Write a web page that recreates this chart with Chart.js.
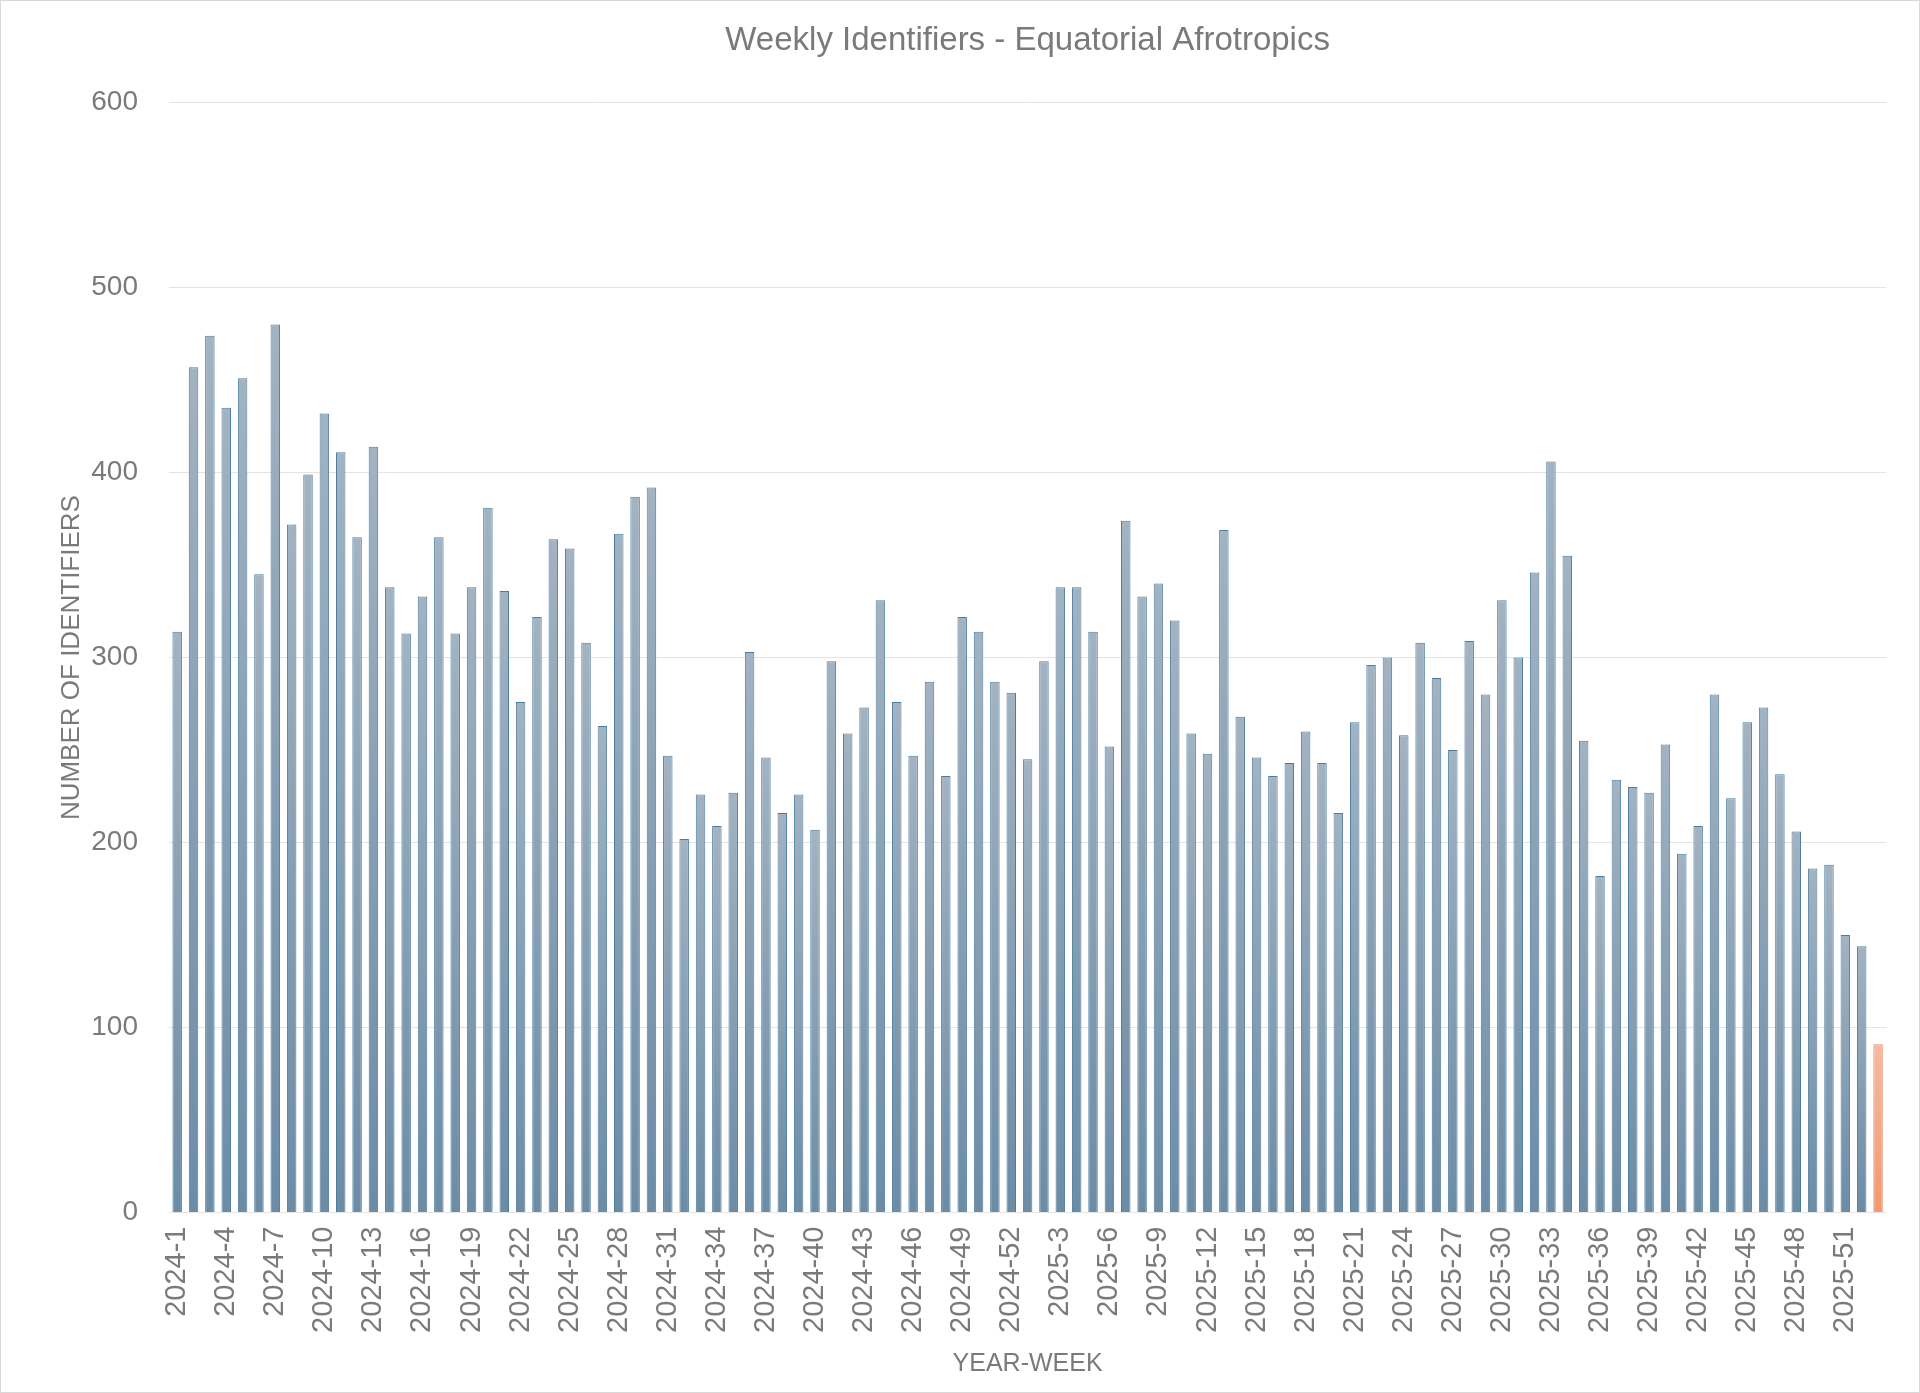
<!DOCTYPE html>
<html>
<head>
<meta charset="utf-8">
<script src="https://cdn.jsdelivr.net/npm/chart.js@4.4.1/dist/chart.umd.min.js"></script>
<style>
  html, body { margin:0; padding:0; background:#fff; }
  #wrap { width:1920px; height:1393px; box-sizing:border-box; border:1px solid #d9d9d9; }
  canvas { display:block; }
</style>
</head>
<body>
<div id="wrap"><canvas id="chart" width="1918" height="1391"></canvas></div>
<script>
// ================== DATA ==================
const years = [2024, 2025];
const weeksPerYear = [52, 53];

const identifiers2024 = [
  314, 457, 474, 435, 451, 345, 480, 372, 399, 432,
  411, 365, 414, 338, 313, 333, 365, 313, 338, 381,
  336, 276, 322, 364, 359, 308, 263, 367, 387, 392,
  247, 202, 226, 209, 227, 303, 246, 216, 226, 207,
  298, 259, 273, 331, 276, 247, 287, 236, 322, 314,
  287, 281
];
const identifiers2025 = [
  245, 298, 338, 338, 314, 252, 374, 333, 340, 320,
  259, 248, 369, 268, 246, 236, 243, 260, 243, 216,
  265, 296, 300, 258, 308, 289, 250, 309, 280, 331,
  300, 346, 406, 355, 255, 182, 234, 230, 227, 253,
  194, 209, 280, 224, 265, 273, 237, 206, 186, 188,
  150, 144, 91
];

const yTicks = [0, 100, 200, 300, 400, 500, 600];

// ================== BUILD LABELS ==================
const labels = [];
years.forEach((y, i) => {
  for (let w = 1; w <= weeksPerYear[i]; w++) labels.push(y + "-" + w);
});
const values = identifiers2024.concat(identifiers2025);
const lastIdx = values.length - 1; // current (partial) week

// ================== STYLE ==================
const textGray = "#7a7a7a";
const font = "'Liberation Sans', Arial, sans-serif";

function barFill(c){
  const chart = c.chart;
  const area = chart.chartArea;
  const partial = c.dataIndex === lastIdx;
  if(!area || !chart.scales.y) return partial ? "#f4a886" : "#869eb2";
  const ys = chart.scales.y;
  const top = ys.getPixelForValue(c.raw);
  const base = ys.getPixelForValue(0);
  const g = chart.ctx.createLinearGradient(0, top, 0, base);
  if(partial){
    g.addColorStop(0, "#f6b9a0");
    g.addColorStop(1, "#f2996f");
  } else {
    g.addColorStop(0, "#a2b3c2");
    g.addColorStop(1, "#6c8ca6");
  }
  return g;
}

// ================== CHART ==================
const chart = new Chart(document.getElementById("chart"), {
  type: "bar",
  data: {
    labels: labels,
    datasets: [{
      label: "Identifiers",
      data: values,
      backgroundColor: barFill,
      borderColor: c => c.dataIndex === lastIdx ? "#ec8a62" : "#4c7d9e",
      borderWidth: 1,
      borderSkipped: "bottom",
      barPercentage: 0.58,
      categoryPercentage: 1
    }]
  },
  options: {
    responsive: false,
    devicePixelRatio: 1,
    animation: false,
    layout: { padding: { left: 55, right: 31, top: 20, bottom: 13 } },
    plugins: {
      legend: { display: false },
      tooltip: { enabled: false },
      title: {
        display: true,
        fullSize: false,
        text: "Weekly Identifiers - Equatorial Afrotropics",
        color: textGray,
        font: { family: font, size: 33, weight: "normal" },
        padding: { top: 0, bottom: 42 }
      }
    },
    scales: {
      x: {
        grid: { display: false },
        border: { display: false },
        ticks: {
          autoSkip: false,
          minRotation: 90,
          maxRotation: 90,
          padding: 6,
          color: textGray,
          font: { family: font, size: 29 },
          callback: (v, i) => i % 3 === 0 ? labels[i] : ""
        },
        title: {
          display: true,
          text: "YEAR-WEEK",
          color: textGray,
          font: { family: font, size: 25 },
          padding: { top: 10, bottom: 0 }
        }
      },
      y: {
        min: 0,
        max: 600,
        afterBuildTicks: axis => { axis.ticks = yTicks.map(v => ({ value: v })); },
        afterFit: axis => { axis.width = 113; },
        grid: { color: "#e4e4e4", lineWidth: 1, drawTicks: false },
        border: { display: false },
        ticks: {
          padding: 31,
          color: textGray,
          font: { family: font, size: 28 }
        },
        title: {
          display: true,
          text: "NUMBER OF IDENTIFIERS",
          color: textGray,
          font: { family: font, size: 26 },
          padding: { top: 0, bottom: 4 }
        }
      }
    }
  }
});
chart.update();
</script>
</body>
</html>
